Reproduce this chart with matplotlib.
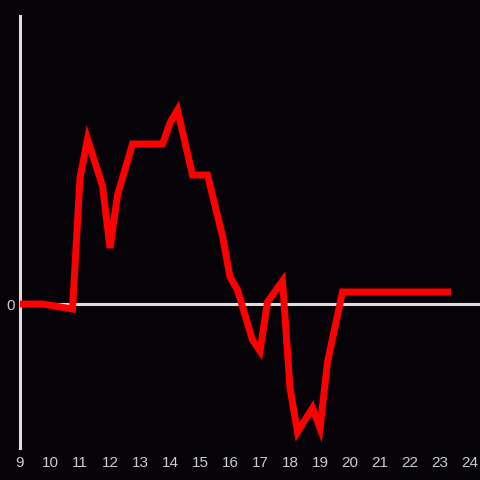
import matplotlib
matplotlib.use("Agg")
import matplotlib.pyplot as plt

# hour of day and value (relative to zero)
hours = [9.0, 9.75, 10.75, 11.0, 11.25, 11.75, 12.0, 12.25, 12.75, 13.75,
         14.0, 14.25, 14.75, 15.25, 15.75, 16.0, 16.25, 16.75, 17.0, 17.25,
         17.75, 18.0, 18.25, 18.75, 19.0, 19.25, 19.75, 23.25]
values = [0, 0, -5, 126, 165, 118, 56, 109, 160, 160,
          181, 194, 129, 129, 68, 27, 14, -36, -47, 2,
          23, -84, -128, -104, -124, -58, 12, 12]
xticks = list(range(9, 25))

bg = "#050307"
axis_col = "#dddddd"

fig = plt.figure(figsize=(4.8, 4.8), dpi=100, facecolor=bg)
ax = fig.add_axes([20 / 480, 32 / 480, 460 / 480, 432 / 480], facecolor=bg)

ax.plot(hours, values, color="#ff0000", lw=5, solid_joinstyle="miter", zorder=3)
ax.axhline(0, color=axis_col, lw=2.2, zorder=2)

ax.set_xlim(9, 9 + 460 / 30)
ax.set_ylim(-144, 288)

for side in ["top", "right", "bottom"]:
    ax.spines[side].set_visible(False)
ax.spines["left"].set_color(axis_col)
ax.spines["left"].set_linewidth(2.2)

ax.set_xticks(xticks)
ax.set_xticklabels([str(t) for t in xticks])
ax.set_yticks([0])
ax.set_yticklabels(["0"])
ax.tick_params(length=0, colors="#cccccc", labelsize=11, pad=6)
ax.tick_params(axis="y", pad=4)
for lbl in ax.get_xticklabels() + ax.get_yticklabels():
    lbl.set_family("Liberation Sans")

fig.savefig("out.png", dpi=100, facecolor=bg)
